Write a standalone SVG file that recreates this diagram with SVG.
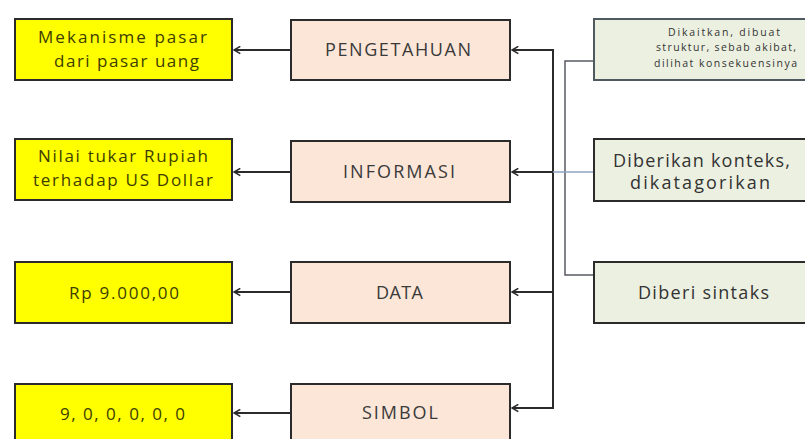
<svg xmlns="http://www.w3.org/2000/svg" width="805" height="439" viewBox="0 0 805 439">
<style>
.y{fill:#ffff00;stroke:#2b2b2b;stroke-width:2}
.p{fill:#fbe6d8;stroke:#2b2b2b;stroke-width:2}
.g{fill:#ecf0e0;stroke:#2b2b2b;stroke-width:2}
.ty{font-family:"Open Sans","Liberation Sans",sans-serif;font-size:17px;fill:#3d3d00;text-anchor:middle}
.tp{font-family:"Open Sans","Liberation Sans",sans-serif;font-size:18px;fill:#3a3a3a;text-anchor:middle}
.tg{font-family:"Open Sans","Liberation Sans",sans-serif;font-size:18px;fill:#333;text-anchor:middle}
.ts{font-family:"Open Sans","Liberation Sans",sans-serif;font-size:10.5px;fill:#333;text-anchor:middle}
.c{fill:none;stroke:#2b2b2b;stroke-width:2}
.c2{fill:none;stroke:#555a60;stroke-width:1.5}
</style>
<defs>
<marker id="a" viewBox="0 0 10 10" refX="9" refY="5" markerWidth="9" markerHeight="9" markerUnits="userSpaceOnUse" orient="auto-start-reverse">
<path d="M2,1 L9,5 L2,9" fill="none" stroke="#2b2b2b" stroke-width="1.8"/>
</marker>
</defs>
<rect width="805" height="439" fill="#fff"/>
<g id="connectors">
<line class="c" x1="291" y1="50" x2="234" y2="50" marker-end="url(#a)"/>
<line class="c" x1="291" y1="172" x2="234" y2="172" marker-end="url(#a)"/>
<line class="c" x1="291" y1="292" x2="234" y2="292" marker-end="url(#a)"/>
<line class="c" x1="291" y1="413" x2="234" y2="413" marker-end="url(#a)"/>
<polyline class="c" points="512,50 553,50 553,408 512,408" marker-start="url(#a)" marker-end="url(#a)"/>
<line class="c" x1="553" y1="172" x2="512" y2="172" marker-end="url(#a)"/>
<line class="c" x1="553" y1="292" x2="512" y2="292" marker-end="url(#a)"/>
<polyline class="c2" points="594,61 565,61 565,275 594,275"/>
<line x1="553" y1="172" x2="594" y2="172" stroke="#8ea3c4" stroke-width="1.5"/>
</g>
<g id="yellow1"><rect class="y" x="15" y="19" width="217" height="61"/>
<text class="ty" x="122.5" y="43" textLength="169">Mekanisme pasar</text><text class="ty" x="126.5" y="67" textLength="145">dari pasar uang</text></g>
<g id="yellow2"><rect class="y" x="15" y="139" width="217" height="61"/>
<text class="ty" x="123" y="162" textLength="170">Nilai tukar Rupiah</text><text class="ty" x="123" y="186" textLength="180">terhadap US Dollar</text></g>
<g id="yellow3"><rect class="y" x="15" y="262" width="217" height="61"/>
<text class="ty" x="124" y="299" textLength="110">Rp 9.000,00</text></g>
<g id="yellow4"><rect class="y" x="15" y="384" width="217" height="70"/>
<text class="ty" x="122.5" y="420" textLength="125">9, 0, 0, 0, 0, 0</text></g>
<g id="pengetahuan"><rect class="p" x="291" y="20" width="219" height="60"/>
<text class="tp" x="398" y="56" textLength="146">PENGETAHUAN</text></g>
<g id="informasi"><rect class="p" x="291" y="141" width="219" height="61"/>
<text class="tp" x="399" y="178" textLength="112">INFORMASI</text></g>
<g id="data"><rect class="p" x="291" y="262" width="219" height="61"/>
<text class="tp" x="399.5" y="299" textLength="47">DATA</text></g>
<g id="simbol"><rect class="p" x="291" y="384" width="219" height="70"/>
<text class="tp" x="400" y="419" textLength="76">SIMBOL</text></g>
<g id="green1"><rect class="g" x="594" y="19" width="230" height="61" style="stroke:#4f5a60"/>
<text class="ts" x="724" y="36" textLength="112">Dikaitkan, dibuat</text>
<text class="ts" x="726" y="51" textLength="140">struktur, sebab akibat,</text>
<text class="ts" x="725.5" y="67" textLength="143">dilihat konsekuensinya</text></g>
<g id="green2"><rect class="g" x="594" y="139" width="230" height="62"/>
<text class="tg" x="701.5" y="167" textLength="177">Diberikan konteks,</text>
<text class="tg" x="700" y="189" textLength="140">dikatagorikan</text></g>
<g id="green3"><rect class="g" x="594" y="262" width="230" height="61"/>
<text class="tg" x="703.5" y="299" textLength="131">Diberi sintaks</text></g>
</svg>
